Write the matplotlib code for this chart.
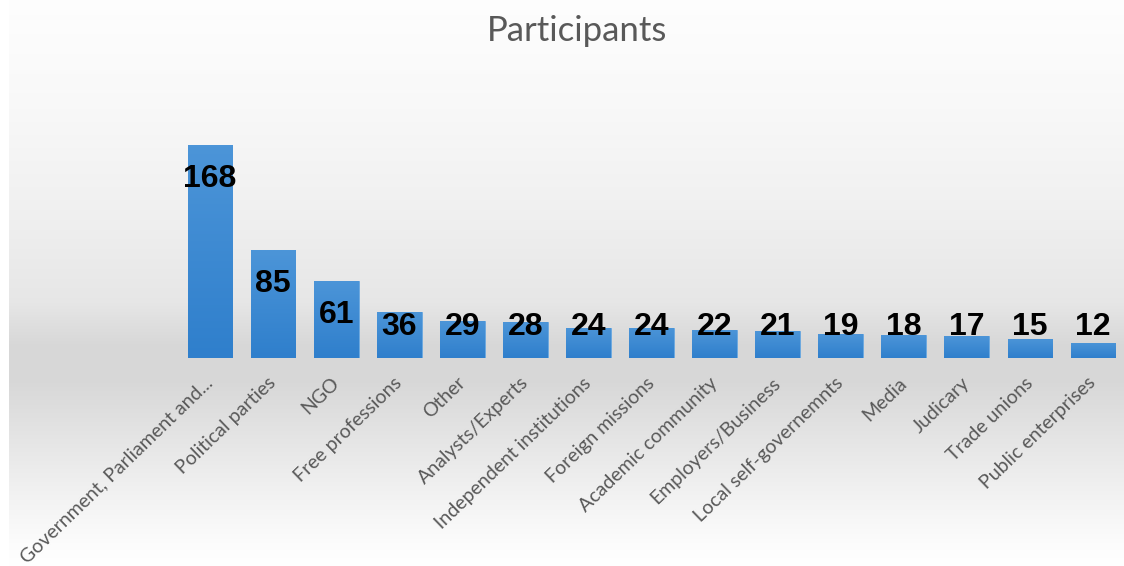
import numpy as np
import matplotlib
matplotlib.use("Agg")
import matplotlib.pyplot as plt
from matplotlib.colors import LinearSegmentedColormap

categories = ["Government, Parliament and...", "Political parties", "NGO",
              "Free professions", "Other", "Analysts/Experts",
              "Independent institutions", "Foreign missions",
              "Academic community", "Employers/Business",
              "Local self-governemnts", "Media", "Judicary",
              "Trade unions", "Public enterprises"]
values = [168, 85, 61, 36, 29, 28, 24, 24, 22, 21, 19, 18, 17, 15, 12]

W, H = 1124, 566
fig = plt.figure(figsize=(W / 100, H / 100), dpi=100)
fig.patch.set_facecolor("white")

# chart-area gradient fill (white -> grey band near axis -> white)
bg = fig.add_axes([9 / W, 0, 1 - 9 / W, 1], zorder=-5)
rows = np.arange(H)
stops_px = [0, 100, 200, 300, 345, 380, 430, 490, 545, 566]
stops_lv = [0.995, 0.975, 0.945, 0.905, 0.845, 0.845, 0.89, 0.945, 0.99, 1.0]
grad = np.interp(rows, stops_px, stops_lv)
bg.imshow(np.dstack([grad[:, None]] * 3) * np.ones((1, 2, 1)),
          aspect="auto", extent=[0, 1, 0, 1], origin="upper", interpolation="bilinear")
bg.set_axis_off()

ax = fig.add_axes([178.5 / W, 208 / H, 946 / W, 278 / H])
ax.patch.set_alpha(0)
x = np.arange(len(values))
bars = ax.bar(x, values, width=0.71, color="#3b8ad3", edgecolor="#6aa8e0", linewidth=0.6)

# vertical gradient inside each bar
cmap = LinearSegmentedColormap.from_list("bar", ["#2f7fcc", "#4c95d8"])
for b in bars:
    im = ax.imshow(np.linspace(0, 1, 64)[:, None], cmap=cmap, aspect="auto",
                   origin="lower", extent=[b.get_x(), b.get_x() + b.get_width(), 0, b.get_height()],
                   zorder=b.get_zorder() + 0.1)
    im.set_clip_path(b)
ax.set_xlim(-0.5, len(values) - 0.5)
ax.set_ylim(0, 219)

for xi, v in zip(x, values):
    ax.text(xi, max(v - 27, 24.5), str(v), ha="center", va="center",
            fontsize=23, fontweight="bold", color="black",
            family="Liberation Sans", zorder=5)

for s in ax.spines.values():
    s.set_visible(False)
ax.set_yticks([])
ax.set_xticks(x)
ax.set_xticklabels(categories, rotation=44, ha="right", va="center",
                   rotation_mode="anchor", fontsize=14, color="#595959", family="Lato")
ax.tick_params(axis="x", length=0, pad=16)

fig.text(0.513, 1 - 31 / H, "Participants", ha="center", va="center",
         fontsize=25, color="#595959", family="Lato")

fig.savefig("out.png", dpi=100)
